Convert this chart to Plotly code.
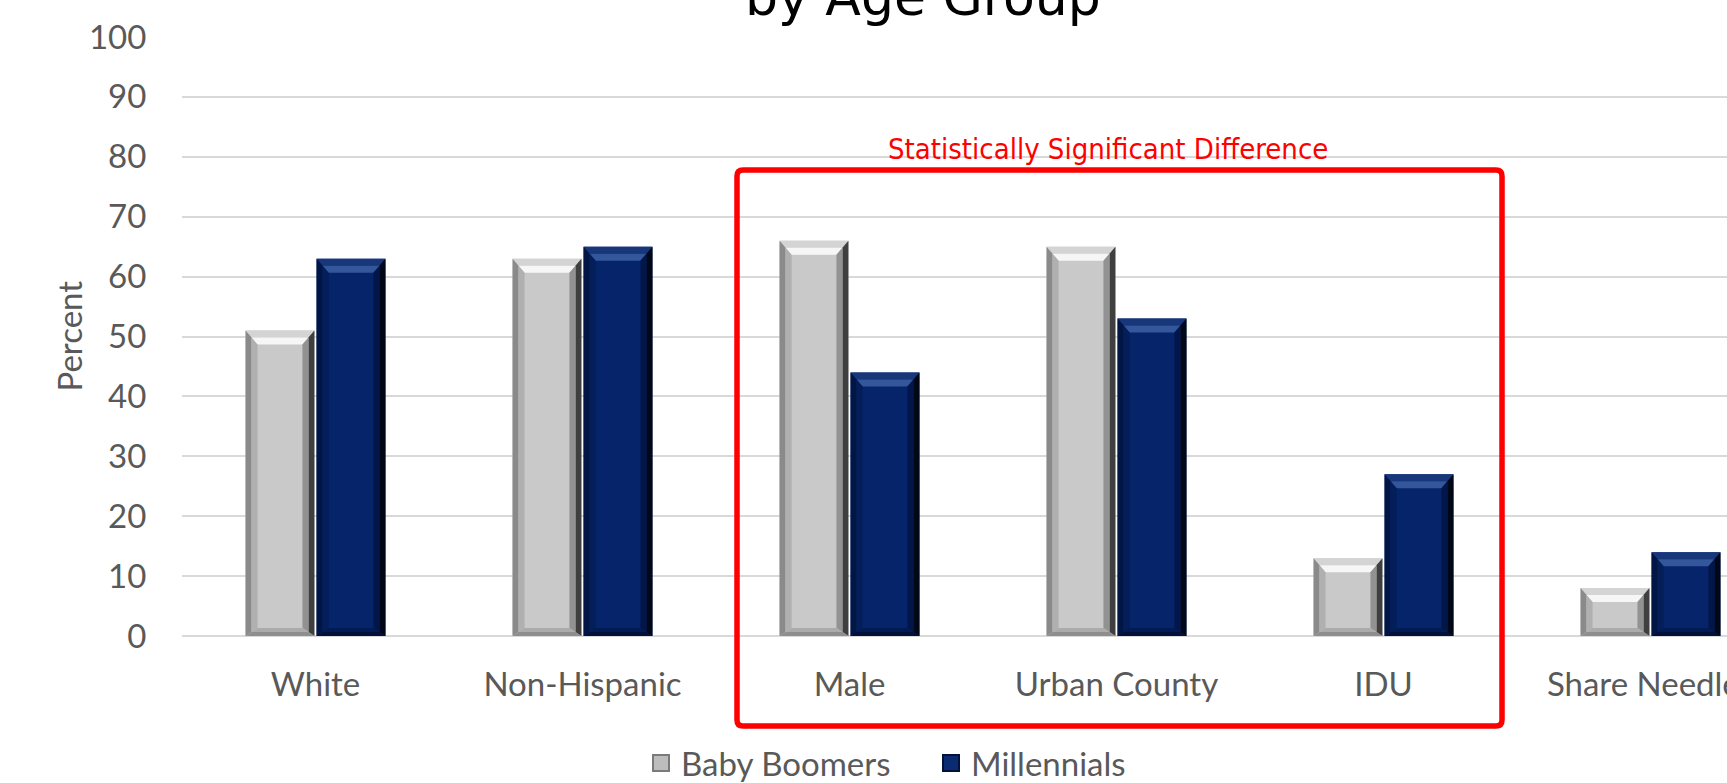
import plotly.graph_objects as go

categories = ["White", "Non-Hispanic", "Male", "Urban County", "IDU", "Share Needles"]
baby_boomers = [51, 63, 66, 65, 13, 8]
millennials = [63, 65, 44, 53, 27, 14]
y_ticks = [0, 10, 20, 30, 40, 50, 60, 70, 80, 90, 100]

W, H = 1727, 783
ML, MR, MT, MB = 182, 0, 37, 147
TXT = "#595959"
FONT = "Lato"
BARGAP, GROUPGAP = 0.468, 0.03

pw = W - ML - MR
ph = H - MT - MB
cat_px = 267.0
x_max = pw / cat_px - 0.5
y_px = ph / 100.0

GRAY = dict(fill="#c9c9c9",
            top=("#d4d4d4", "#f6f6f6"), left=("#8a8a8a", "#b0b0b0"),
            right=("#3f3f3f", "#929292"), bottom=("#8e8e8e", "#ababab"))
NAVY = dict(fill="#06246a",
            top=("#17377a", "#34569a"), left=("#021645", "#041e5a"),
            right=("#000818", "#021649"), bottom=("#01113a", "#031b55"))

fig = go.Figure()
fig.add_trace(go.Bar(
    name="Baby Boomers", x=categories, y=baby_boomers, showlegend=False,
    marker=dict(color=GRAY["fill"], line=dict(width=0)),
))
fig.add_trace(go.Bar(
    name="Millennials", x=categories, y=millennials, showlegend=False,
    marker=dict(color=NAVY["fill"], line=dict(width=0)),
))
# legend entries with larger square symbols
fig.add_trace(go.Scatter(
    name="Baby Boomers", x=[None], y=[None], mode="markers",
    marker=dict(symbol="square", size=21, color="#bdbdbd",
                line=dict(color="#7a7a7a", width=2)),
))
fig.add_trace(go.Scatter(
    name="Millennials", x=[None], y=[None], mode="markers",
    marker=dict(symbol="square", size=21, color="#0a2a72",
                line=dict(color="#021238", width=2)),
))

# bevel shading on every bar, derived from the data values
slot = (1 - BARGAP) / 2
half_w = slot * (1 - GROUPGAP) / 2
D_SIDE, D_TOP, D_BOT = 12, 14, 8  # bevel depths in pixels


def ring(x0, x1, y1, a, b, top_d, side_d, bot_d):
    """Two nested rectangles at fractional depths a->b, returns 4 side paths."""
    dxa, dxb = side_d * a / cat_px, side_d * b / cat_px
    dta, dtb = top_d * a / y_px, top_d * b / y_px
    dba, dbb = bot_d * a / y_px, bot_d * b / y_px
    ox0, ox1, oy0, oy1 = x0 + dxa, x1 - dxa, dba, y1 - dta
    ix0, ix1, iy0, iy1 = x0 + dxb, x1 - dxb, dbb, y1 - dtb
    P = lambda pts: "M" + " L".join(f"{px},{py}" for px, py in pts) + " Z"
    return [
        (P([(ox0, oy1), (ox1, oy1), (ix1, iy1), (ix0, iy1)]), "top"),
        (P([(ox0, oy0), (ox0, oy1), (ix0, iy1), (ix0, iy0)]), "left"),
        (P([(ox1, oy0), (ox1, oy1), (ix1, iy1), (ix1, iy0)]), "right"),
        (P([(ox0, oy0), (ox1, oy0), (ix1, iy0), (ix0, iy0)]), "bottom"),
    ]


for series, pal, sgn in ((baby_boomers, GRAY, -1), (millennials, NAVY, 1)):
    for i, v in enumerate(series):
        c = i + sgn * slot / 2
        x0, x1 = c - half_w, c + half_w
        for lvl, (a, b) in enumerate(((0.0, 0.5), (0.5, 1.0))):
            for path, side in ring(x0, x1, v, a, b, D_TOP, D_SIDE, D_BOT):
                fig.add_shape(type="path", xref="x", yref="y", path=path,
                              fillcolor=pal[side][lvl], line=dict(width=0),
                              layer="above")

fig.update_layout(
    width=W, height=H,
    margin=dict(l=ML, r=MR, t=MT, b=MB, autoexpand=False),
    paper_bgcolor="white", plot_bgcolor="white",
    barmode="group", bargap=BARGAP, bargroupgap=GROUPGAP,
    font=dict(family=FONT, color=TXT, size=33),
    showlegend=True,
    legend=dict(
        orientation="h", x=(641 - ML) / pw, xanchor="left",
        y=(MT + ph - 763) / ph, yanchor="middle",
        font=dict(family=FONT, size=33, color=TXT),
        itemwidth=30, traceorder="normal",
        entrywidth=245, entrywidthmode="pixels",
    ),
    xaxis=dict(
        range=[-0.5, x_max], showgrid=False, zeroline=False, showline=False,
        ticks="outside", ticklen=19, tickcolor="rgba(0,0,0,0)",
        tickfont=dict(family=FONT, size=33, color=TXT),
        automargin=False,
    ),
    yaxis=dict(
        range=[0, 100], tickvals=y_ticks, showgrid=True,
        gridcolor="#d9d9d9", gridwidth=1.5, zeroline=True,
        zerolinecolor="#d9d9d9", zerolinewidth=1.5, showline=False,
        ticks="outside", ticklen=28, tickcolor="rgba(0,0,0,0)",
        tickfont=dict(family=FONT, size=33, color=TXT),
        automargin=False,
    ),
)

# y-axis title
fig.add_annotation(
    text="Percent", xref="paper", yref="paper",
    x=(68 - ML) / pw, y=0.5, xanchor="center", yanchor="middle",
    textangle=-90, showarrow=False,
    font=dict(family=FONT, size=33, color=TXT),
)

# partially visible chart title
fig.add_annotation(
    text="by Age Group", xref="paper", yref="paper",
    x=(923 - ML) / pw, y=(MT + ph - 29) / ph, xanchor="center", yanchor="bottom",
    showarrow=False,
    font=dict(family="DejaVu Sans", size=52, color="black"),
)

# significance box (rounded corners), in paper coordinates
bx0, bx1 = (737 - ML) / pw, (1502 - ML) / pw
by0, by1 = (MT + ph - 726) / ph, (MT + ph - 170) / ph
rx, ry = 6 / pw, 6 / ph
box_path = (
    f"M{bx0 + rx},{by1} L{bx1 - rx},{by1} Q{bx1},{by1} {bx1},{by1 - ry} "
    f"L{bx1},{by0 + ry} Q{bx1},{by0} {bx1 - rx},{by0} "
    f"L{bx0 + rx},{by0} Q{bx0},{by0} {bx0},{by0 + ry} "
    f"L{bx0},{by1 - ry} Q{bx0},{by1} {bx0 + rx},{by1} Z"
)
fig.add_shape(type="path", xref="paper", yref="paper", path=box_path,
              line=dict(color="#ff0000", width=5.5), fillcolor="rgba(0,0,0,0)",
              layer="above")
fig.add_annotation(
    text="Statistically Significant Difference", xref="paper", yref="paper",
    x=(1108 - ML) / pw, y=(MT + ph - 149) / ph, xanchor="center", yanchor="middle",
    showarrow=False,
    font=dict(family="Liberation Sans Narrow, DejaVu Sans Condensed", size=29, color="#ff0000"),
)

fig.write_html("out.html")
